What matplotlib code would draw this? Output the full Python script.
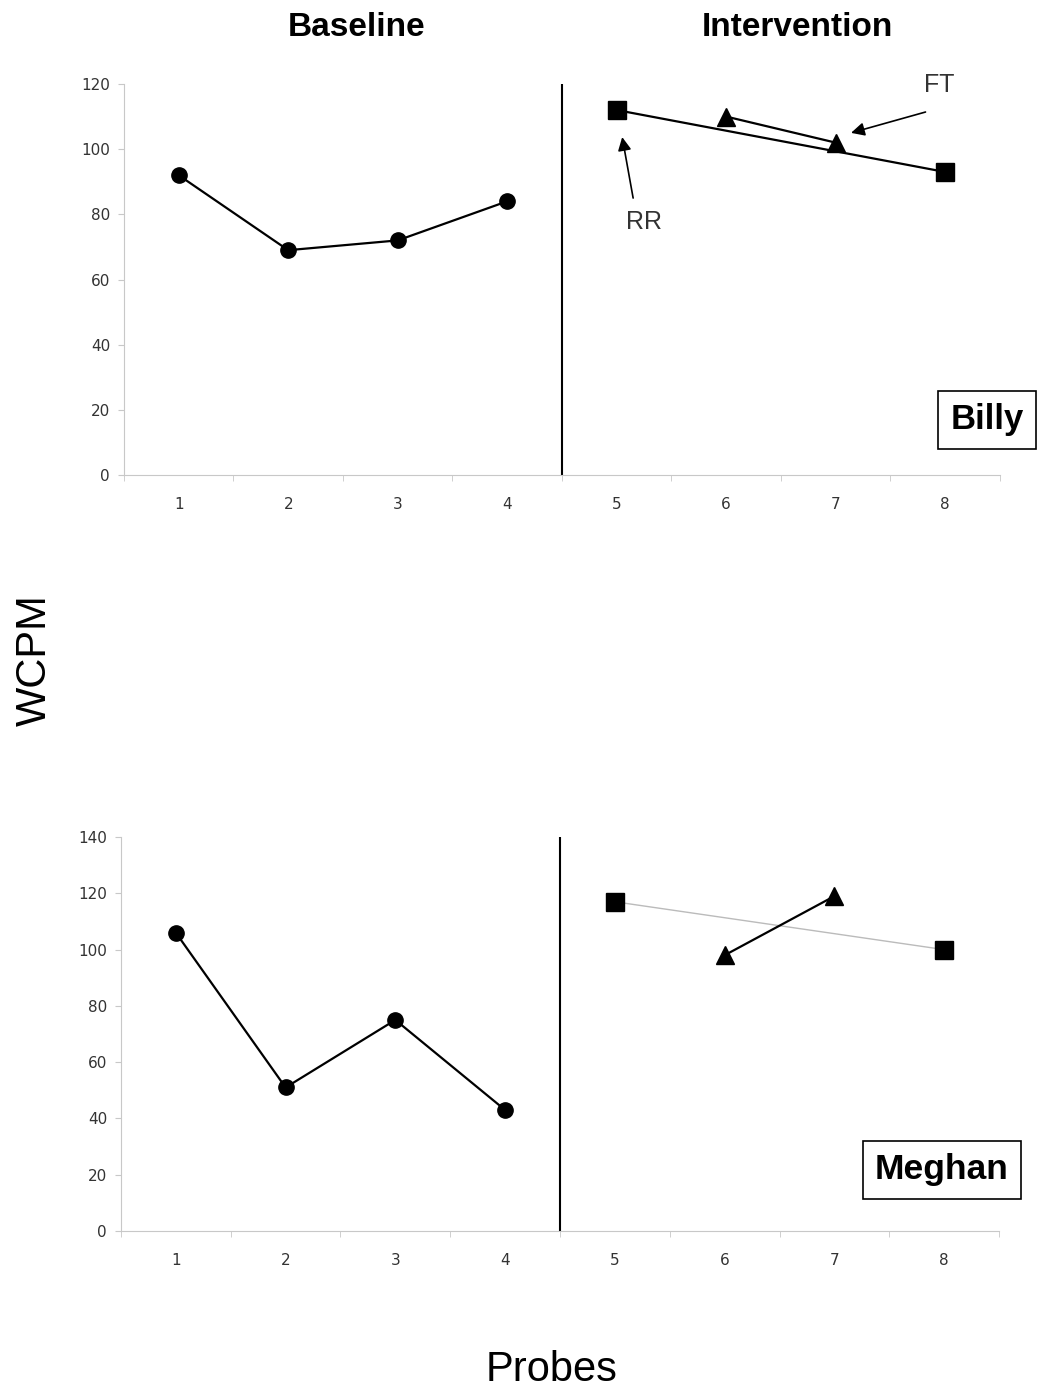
import matplotlib.pyplot as plt

plt.rcParams['font.family'] = ['Liberation Sans', 'DejaVu Sans']

probes = [1, 2, 3, 4, 5, 6, 7, 8]
base_x = [1, 2, 3, 4]
rr_x = [5, 8]
ft_x = [6, 7]

billy_base = [92, 69, 72, 84]
billy_rr = [112, 93]
billy_ft = [110, 102]

meghan_base = [106, 51, 75, 43]
meghan_rr = [117, 100]
meghan_ft = [98, 119]

GRID = '#c8c8c8'


def style_axes(ax, ymax):
    ax.set_xlim(0.5, 8.5)
    ax.set_ylim(0, ymax)
    ax.set_yticks(range(0, ymax + 1, 20))
    ax.set_xticks(probes)
    ax.set_xticks([x + 0.5 for x in range(0, 9)], minor=True)
    ax.tick_params(axis='x', which='major', length=0, pad=16,
                   labelsize=11, labelcolor='#333333')
    ax.tick_params(axis='x', which='minor', length=4, color=GRID)
    ax.tick_params(axis='y', length=4, color=GRID, labelsize=11,
                   labelcolor='#333333', pad=6)
    for lab in ax.get_xticklabels() + ax.get_yticklabels():
        lab.set_family('DejaVu Sans')
    for s in ['top', 'right']:
        ax.spines[s].set_visible(False)
    for s in ['left', 'bottom']:
        ax.spines[s].set_color(GRID)
    ax.axvline(4.5, ymin=0, ymax=1, color='black', lw=1.5)


def arrow(ax, tail, head):
    ax.annotate('', xy=head, xytext=tail,
                arrowprops=dict(arrowstyle='-|>', color='black', lw=1.2,
                                mutation_scale=20, shrinkA=0, shrinkB=0))


fig = plt.figure(figsize=(10.4, 13.93), dpi=100)

# Billy
ax1 = fig.add_axes([0.1192, 0.659, 0.8423, 0.2807])
ax1.plot(base_x, billy_base, color='black', lw=1.6, marker='o', ms=11)
ax1.plot(rr_x, billy_rr, color='black', lw=1.6, marker='s', ms=13)
ax1.plot(ft_x, billy_ft, color='black', lw=1.6, marker='^', ms=13)
style_axes(ax1, 120)
ax1.text(5.25, 77.5, 'RR', fontsize=18, color='#333333',
         ha='center', va='center')
arrow(ax1, (5.15, 85), (5.05, 103.7))
ax1.text(7.95, 119.7, 'FT', fontsize=18, color='#333333',
         ha='center', va='center')
arrow(ax1, (7.82, 111.4), (7.14, 105))
ax1.text(0.985, 0.141, 'Billy', transform=ax1.transAxes, fontsize=25,
         fontweight='bold', ha='center', va='center',
         bbox=dict(boxstyle='square,pad=0.35', fc='white', ec='black', lw=1.2))

# Meghan
ax2 = fig.add_axes([0.1163, 0.1163, 0.8443, 0.2828])
ax2.plot(base_x, meghan_base, color='black', lw=1.6, marker='o', ms=11)
ax2.plot(rr_x, meghan_rr, color='#bbbbbb', lw=1.0, marker='s', ms=13,
         mfc='black', mec='black')
ax2.plot(ft_x, meghan_ft, color='black', lw=1.6, marker='^', ms=13)
style_axes(ax2, 140)
ax2.text(0.935, 0.155, 'Meghan', transform=ax2.transAxes, fontsize=25.5,
         fontweight='bold', ha='center', va='center',
         bbox=dict(boxstyle='square,pad=0.35', fc='white', ec='black', lw=1.2))

fig.text(357 / 1040, 1 - 28 / 1393, 'Baseline', fontsize=24, fontweight='bold',
         ha='center', va='center')
fig.text(797 / 1040, 1 - 28 / 1393, 'Intervention', fontsize=24,
         fontweight='bold', ha='center', va='center')
fig.text(35 / 1040, 1 - 660 / 1393, 'WCPM', fontsize=30, rotation=90,
         ha='center', va='center')
fig.text(552 / 1040, 1 - 1370 / 1393, 'Probes', fontsize=30,
         ha='center', va='center')

fig.savefig('out.png', dpi=100)
